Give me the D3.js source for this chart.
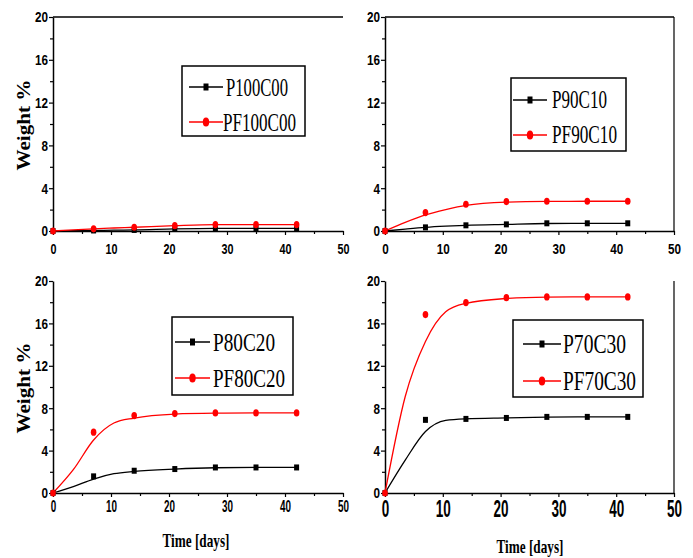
<!DOCTYPE html>
<html>
<head>
<meta charset="utf-8">
<script src="https://cdn.jsdelivr.net/npm/d3@7"></script>
<style>
  body { margin: 0; background: #fff; }
  svg { display: block; }
</style>
</head>
<body>
<div id="container"></div>
<script>
// ---- data ----
const days = [0, 7, 14, 21, 28, 35, 42];
const fitDays = [0, 3.5, 7, 10.5, 14, 21, 28, 35, 42];

const p100c00 = [0, 0.05, 0.1, 0.2, 0.25, 0.25, 0.25];
const pf100c00 = [0, 0.2, 0.35, 0.5, 0.6, 0.6, 0.6];
const p100c00Fit = [0, 0.03, 0.05, 0.08, 0.1, 0.2, 0.25, 0.25, 0.25];
const pf100c00Fit = [0, 0.1, 0.2, 0.28, 0.35, 0.5, 0.6, 0.6, 0.6];

const p90c10 = [0, 0.34, 0.53, 0.62, 0.72, 0.72, 0.72];
const pf90c10 = [0, 1.72, 2.5, 2.75, 2.78, 2.78, 2.78];
const p90c10Fit = [0, 0.18, 0.34, 0.45, 0.53, 0.62, 0.7, 0.72, 0.72];
const pf90c10Fit = [0, 0.8, 1.5, 2.0, 2.4, 2.7, 2.77, 2.78, 2.78];

const p80c20 = [0, 1.57, 2.1, 2.26, 2.41, 2.41, 2.41];
const pf80c20 = [0, 5.74, 7.3, 7.49, 7.55, 7.55, 7.55];
const p80c20Fit = [0, 0.6, 1.32, 1.82, 2.04, 2.26, 2.38, 2.41, 2.41];
const pf80c20Fit = [0, 2.2, 5.0, 6.6, 7.07, 7.45, 7.53, 7.55, 7.55];

const p70c30 = [0, 6.9, 6.99, 7.08, 7.18, 7.18, 7.18];
const pf70c30 = [0, 16.83, 17.96, 18.43, 18.5, 18.5, 18.5];
const p70c30Fit = [0, 3.1, 5.8, 6.85, 7.0, 7.08, 7.15, 7.18, 7.18];
const pf70c30Fit = [0, 9.1, 14.3, 17.1, 17.9, 18.35, 18.48, 18.5, 18.5];

const xTicks = [0, 10, 20, 30, 40, 50];
const xMinor = [5, 15, 25, 35, 45];
const yTicks = [0, 4, 8, 12, 16, 20];
const yMinor = [2, 6, 10, 14, 18];

// ---- layout, one entry per panel ----
const panels = [
  {names: ["P100C00", "PF100C00"], vals: [p100c00, pf100c00], fits: [p100c00Fit, pf100c00Fit],
   left: 53, right: 343, top: 17, bottom: 231, topLine: true, rightLine: false,
   xFont: 14, xDigit: 6, xPad: 9,
   legend: {x0: 182, x1: 305, y0: 66, y1: 136, rows: [87, 122], lx0: 189, lx1: 223, tx: [226, 223], tl: [62, 73], fs: 26},
   ytitle: true, xtitle: false},
  {names: ["P90C10", "PF90C10"], vals: [p90c10, pf90c10], fits: [p90c10Fit, pf90c10Fit],
   left: 385, right: 674, top: 17, bottom: 231, topLine: true, rightLine: true,
   xFont: 15, xDigit: 6.5, xPad: 8,
   legend: {x0: 511, x1: 626, y0: 78, y1: 151, rows: [100, 135], lx0: 513, lx1: 547, tx: [552, 552], tl: [55, 65], fs: 25},
   ytitle: false, xtitle: false},
  {names: ["P80C20", "PF80C20"], vals: [p80c20, pf80c20], fits: [p80c20Fit, pf80c20Fit],
   left: 53, right: 343, top: 281, bottom: 493, topLine: false, rightLine: false,
   xFont: 17, xDigit: 5.5, xPad: 3,
   legend: {x0: 172, x1: 293, y0: 317, y1: 395, rows: [342, 378], lx0: 175, lx1: 210, tx: [213, 213], tl: [62, 72], fs: 26},
   ytitle: true, xtitle: {x: 196, y: 547}},
  {names: ["P70C30", "PF70C30"], vals: [p70c30, pf70c30], fits: [p70c30Fit, pf70c30Fit],
   left: 385, right: 674, top: 281, bottom: 493, topLine: false, rightLine: true,
   xFont: 24, xDigit: 7.5, xPad: 3,
   legend: {x0: 513, x1: 643, y0: 320, y1: 397, rows: [344, 381], lx0: 523, lx1: 561, tx: [563, 563], tl: [63, 73], fs: 27},
   ytitle: false, xtitle: {x: 530, y: 553}}
];

const colors = ["#000000", "#ff0000"];

const W = 693, H = 558;
const svg = d3.select("#container").append("svg")
  .attr("width", W)
  .attr("height", H);

function drawMarker(g, kind, cx, cy, big) {
  if (kind === 0) {
    g.append("rect")
      .attr("x", cx - 2.5).attr("y", cy - (big ? 3.5 : 3))
      .attr("width", 5).attr("height", big ? 7 : 6)
      .attr("fill", colors[0]);
  } else {
    g.append("ellipse")
      .attr("cx", cx).attr("cy", cy)
      .attr("rx", big ? 3.2 : 2.8).attr("ry", big ? 4.5 : 3.6)
      .attr("fill", colors[1]);
  }
}

panels.forEach(function(p) {
  let g = svg.append("g");

  let x = d3.scaleLinear().domain([0, 50]).range([p.left, p.right]);
  let y = d3.scaleLinear().domain([0, 20]).range([p.bottom, p.top]);

  // frame lines
  if (p.topLine) {
    g.append("line").attr("x1", p.left).attr("x2", p.right)
      .attr("y1", p.top).attr("y2", p.top)
      .attr("stroke", "#000").attr("stroke-width", 1.5);
  }
  if (p.rightLine) {
    g.append("line").attr("x1", p.right).attr("x2", p.right)
      .attr("y1", p.top).attr("y2", p.bottom)
      .attr("stroke", "#000").attr("stroke-width", 1.2);
  }

  // minor ticks
  g.append("g")
    .attr("transform", "translate(0," + p.bottom + ")")
    .call(d3.axisBottom(x).tickValues(xMinor).tickSize(3).tickFormat(""))
    .call(s => s.select(".domain").remove());
  g.append("g")
    .attr("transform", "translate(" + p.left + ",0)")
    .call(d3.axisLeft(y).tickValues(yMinor).tickSize(3).tickFormat(""))
    .call(s => s.select(".domain").remove());

  // x axis
  let xa = g.append("g")
    .attr("transform", "translate(0," + p.bottom + ")")
    .call(d3.axisBottom(x).tickValues(xTicks).tickSize(4).tickPadding(p.xPad).tickSizeOuter(0));
  xa.selectAll("text")
    .attr("font-family", "Liberation Sans, Arial, sans-serif")
    .attr("font-weight", "bold")
    .attr("font-size", p.xFont)
    .attr("fill", "#000")
    .attr("textLength", d => String(d).length * p.xDigit)
    .attr("lengthAdjust", "spacingAndGlyphs");

  // y axis
  let ya = g.append("g")
    .attr("transform", "translate(" + p.left + ",0)")
    .call(d3.axisLeft(y).tickValues(yTicks).tickSize(4).tickPadding(1).tickSizeOuter(0));
  ya.selectAll("text")
    .attr("font-family", "Liberation Sans, Arial, sans-serif")
    .attr("font-weight", "bold")
    .attr("font-size", 15)
    .attr("fill", "#000")
    .attr("textLength", d => String(d).length * 6.5)
    .attr("lengthAdjust", "spacingAndGlyphs");

  g.selectAll(".domain").attr("stroke-width", 1.5);
  g.selectAll(".tick line").attr("stroke-width", 1.2);

  // fitted curves
  let line = d3.line()
    .x((d, i) => x(fitDays[i]))
    .y(d => y(d))
    .curve(d3.curveMonotoneX);

  p.fits.forEach(function(f, k) {
    g.append("path")
      .attr("d", line(f))
      .attr("fill", "none")
      .attr("stroke", colors[k])
      .attr("stroke-width", 1.3);
  });

  // markers
  p.vals.forEach(function(v, k) {
    v.forEach(function(val, i) {
      drawMarker(g, k, x(days[i]), y(val), false);
    });
  });

  // legend
  let L = p.legend;
  g.append("rect")
    .attr("x", L.x0).attr("y", L.y0)
    .attr("width", L.x1 - L.x0).attr("height", L.y1 - L.y0)
    .attr("fill", "#fff")
    .attr("stroke", "#000")
    .attr("stroke-width", 1.5);
  p.names.forEach(function(name, k) {
    let ry = L.rows[k];
    g.append("line")
      .attr("x1", L.lx0).attr("x2", L.lx1)
      .attr("y1", ry).attr("y2", ry)
      .attr("stroke", colors[k]).attr("stroke-width", 1.3);
    drawMarker(g, k, (L.lx0 + L.lx1) / 2, ry, true);
    g.append("text")
      .text(name)
      .attr("x", L.tx[k])
      .attr("y", ry + L.fs * 0.33)
      .attr("font-family", "Liberation Serif, Times New Roman, serif")
      .attr("font-size", L.fs)
      .attr("textLength", L.tl[k])
      .attr("lengthAdjust", "spacingAndGlyphs")
      .attr("fill", "#000");
  });

  // axis titles
  if (p.ytitle) {
    let cy = (p.top + p.bottom) / 2 + 1;
    g.append("text")
      .text("Weight %")
      .attr("transform", "translate(30," + cy + ") rotate(-90)")
      .attr("text-anchor", "middle")
      .attr("font-family", "Liberation Serif, Times New Roman, serif")
      .attr("font-weight", "bold")
      .attr("font-size", 19)
      .attr("textLength", 91)
      .attr("lengthAdjust", "spacingAndGlyphs")
      .attr("fill", "#000");
  }
  if (p.xtitle) {
    g.append("text")
      .text("Time [days]")
      .attr("x", p.xtitle.x)
      .attr("y", p.xtitle.y)
      .attr("text-anchor", "middle")
      .attr("font-family", "Liberation Serif, Times New Roman, serif")
      .attr("font-weight", "bold")
      .attr("font-size", 19)
      .attr("textLength", 67)
      .attr("lengthAdjust", "spacingAndGlyphs")
      .attr("fill", "#000");
  }
});
</script>
</body>
</html>
